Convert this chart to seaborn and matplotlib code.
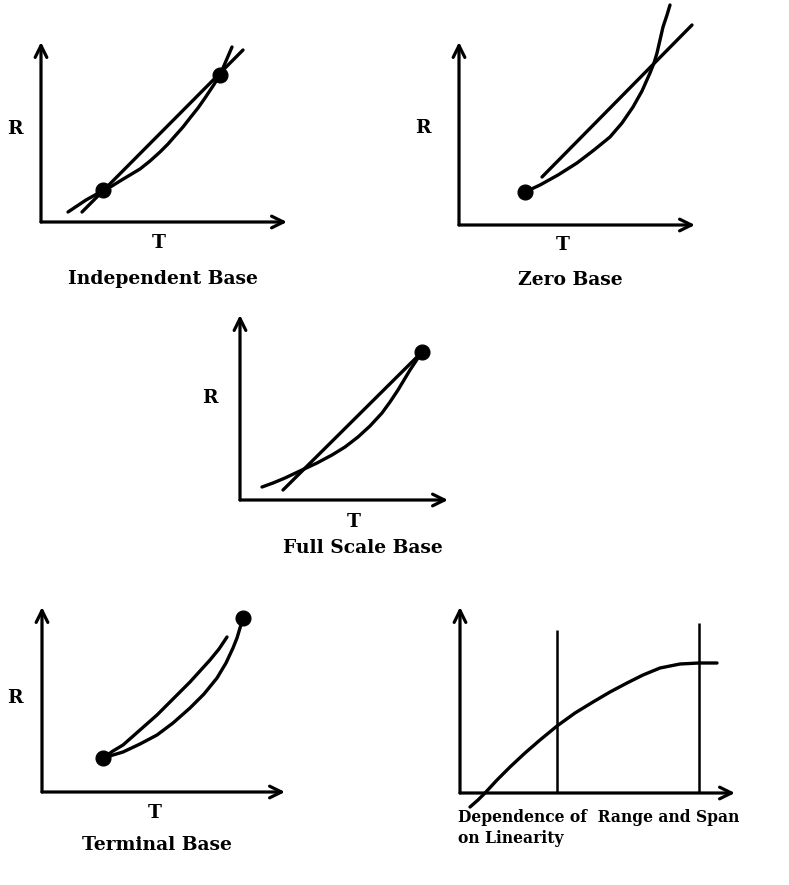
import numpy as np
import pandas as pd
import matplotlib.pyplot as plt
import seaborn as sns

sns.set_style("white")
plt.rcParams['font.family'] = ['DejaVu Serif', 'DejaVu Sans']

## Datos (T, R en unidades de pixel desde el origen de cada panel)

# Independent Base
ind_curve_T = [27, 36, 45, 54, 62, 71, 79, 89, 99, 109, 119, 127, 134, 142, 149, 157, 164, 172, 179, 185, 191]
ind_curve_R = [10, 16, 22, 27, 32, 36, 41, 47, 53, 61, 70, 78, 86, 95, 104, 114, 124, 136, 147, 161, 175]
ind_line_T = [41, 202]
ind_line_R = [10, 172]
ind_dot_T = [62, 179]
ind_dot_R = [32, 147]

# Zero Base
zero_curve_T = [66, 81, 99, 118, 135, 151, 163, 174, 183, 191, 195, 198, 201, 204, 208, 211]
zero_curve_R = [33, 40, 50, 62, 75, 88, 102, 118, 134, 152, 162, 172, 185, 198, 210, 220]
zero_line_T = [83, 233]
zero_line_R = [48, 200]
zero_dot_T = [66]
zero_dot_R = [33]

# Full Scale Base
full_curve_T = [22, 33, 45, 62, 77, 92, 105, 118, 130, 142, 150, 158, 164, 170, 176, 182]
full_curve_R = [13, 17, 22, 30, 37, 45, 53, 63, 74, 87, 98, 110, 120, 130, 139, 148]
full_line_T = [43, 182]
full_line_R = [10, 148]
full_dot_T = [182]
full_dot_R = [148]

# Terminal Base
term_upper_T = [61, 71, 81, 98, 115, 131, 148, 158, 168, 177, 185]
term_upper_R = [34, 41, 47, 62, 77, 93, 110, 121, 132, 143, 155]
term_lower_T = [61, 71, 81, 98, 115, 131, 148, 162, 175, 184, 191, 195, 198, 201]
term_lower_R = [34, 37, 40, 48, 57, 69, 84, 98, 114, 129, 144, 154, 164, 174]
term_dot_T = [61, 201]
term_dot_R = [34, 174]

# Dependence of Range and Span on Linearity
lin_curve_T = [10, 18, 25, 37, 50, 65, 80, 97, 115, 133, 150, 167, 183, 200, 220, 239, 257]
lin_curve_R = [-14, -7, 0, 13, 26, 40, 53, 67, 80, 91, 101, 110, 118, 125, 129, 130, 130]
lin_vline_T = [97, 239]
lin_vline_top = [163, 170]

#%%
W, H = 789, 885
fig = plt.figure(figsize=(W / 100, H / 100), dpi=100)

def panel(ox, oy, tx, ty):
    # origen (ox, oy) y puntas de flecha (tx, ty) en pixeles de la figura
    ax = fig.add_axes([ox / W, 1 - oy / H, (tx - ox) / W, (oy - ty) / H])
    ax.set_xlim(0, tx - ox)
    ax.set_ylim(0, oy - ty)
    ax.axis('off')
    arrow = dict(arrowstyle='->,head_length=0.85,head_width=0.42', lw=2.3,
                 color='black', shrinkA=0, shrinkB=0)
    ax.annotate('', xy=(0, oy - ty), xytext=(0, 0), arrowprops=arrow, annotation_clip=False)
    ax.annotate('', xy=(tx - ox, 0), xytext=(0, 0), arrowprops=arrow, annotation_clip=False)
    return ax

def curve(ax, T, R):
    sns.lineplot(x=T, y=R, ax=ax, sort=False, estimator=None, color='black',
                 lw=2.4, clip_on=False)

def dots(ax, T, R):
    sns.scatterplot(x=T, y=R, ax=ax, color='black', s=115, edgecolor='black',
                    clip_on=False, zorder=5)

txt = dict(fontsize=13.5, fontweight='bold', color='black')
txt_small = dict(fontsize=11.2, fontweight='bold', color='black')

# Independent Base
ax1 = panel(41, 222, 287, 42)
curve(ax1, ind_curve_T, ind_curve_R)
curve(ax1, ind_line_T, ind_line_R)
dots(ax1, ind_dot_T, ind_dot_R)
ax1.text(-26, 93, 'R', ha='center', va='center', **txt)
ax1.text(118, -21, 'T', ha='center', va='center', **txt)
ax1.text(122, -57, 'Independent Base', ha='center', va='center', **txt)

# Zero Base
ax2 = panel(459, 225, 695, 42)
curve(ax2, zero_curve_T, zero_curve_R)
curve(ax2, zero_line_T, zero_line_R)
dots(ax2, zero_dot_T, zero_dot_R)
ax2.text(-36, 97, 'R', ha='center', va='center', **txt)
ax2.text(104, -20, 'T', ha='center', va='center', **txt)
ax2.text(111, -55, 'Zero Base', ha='center', va='center', **txt)

# Full Scale Base
ax3 = panel(240, 500, 448, 315)
curve(ax3, full_curve_T, full_curve_R)
curve(ax3, full_line_T, full_line_R)
dots(ax3, full_dot_T, full_dot_R)
ax3.text(-30, 102, 'R', ha='center', va='center', **txt)
ax3.text(114, -22, 'T', ha='center', va='center', **txt)
ax3.text(123, -48, 'Full Scale Base', ha='center', va='center', **txt)

# Terminal Base
ax4 = panel(42, 792, 285, 607)
curve(ax4, term_upper_T, term_upper_R)
curve(ax4, term_lower_T, term_lower_R)
dots(ax4, term_dot_T, term_dot_R)
ax4.text(-27, 94, 'R', ha='center', va='center', **txt)
ax4.text(113, -21, 'T', ha='center', va='center', **txt)
ax4.text(115, -53, 'Terminal Base', ha='center', va='center', **txt)

# Dependence of Range and Span on Linearity
ax5 = panel(460, 793, 735, 607)
curve(ax5, lin_curve_T, lin_curve_R)
for t, top in zip(lin_vline_T, lin_vline_top):
    ax5.vlines(t, 0, top, color='black', lw=1.8)
ax5.text(-2, -25, 'Dependence of  Range and Span', ha='left', va='center', **txt_small)
ax5.text(-2, -45, 'on Linearity', ha='left', va='center', **txt_small)

plt.savefig('out.png', dpi=100)
